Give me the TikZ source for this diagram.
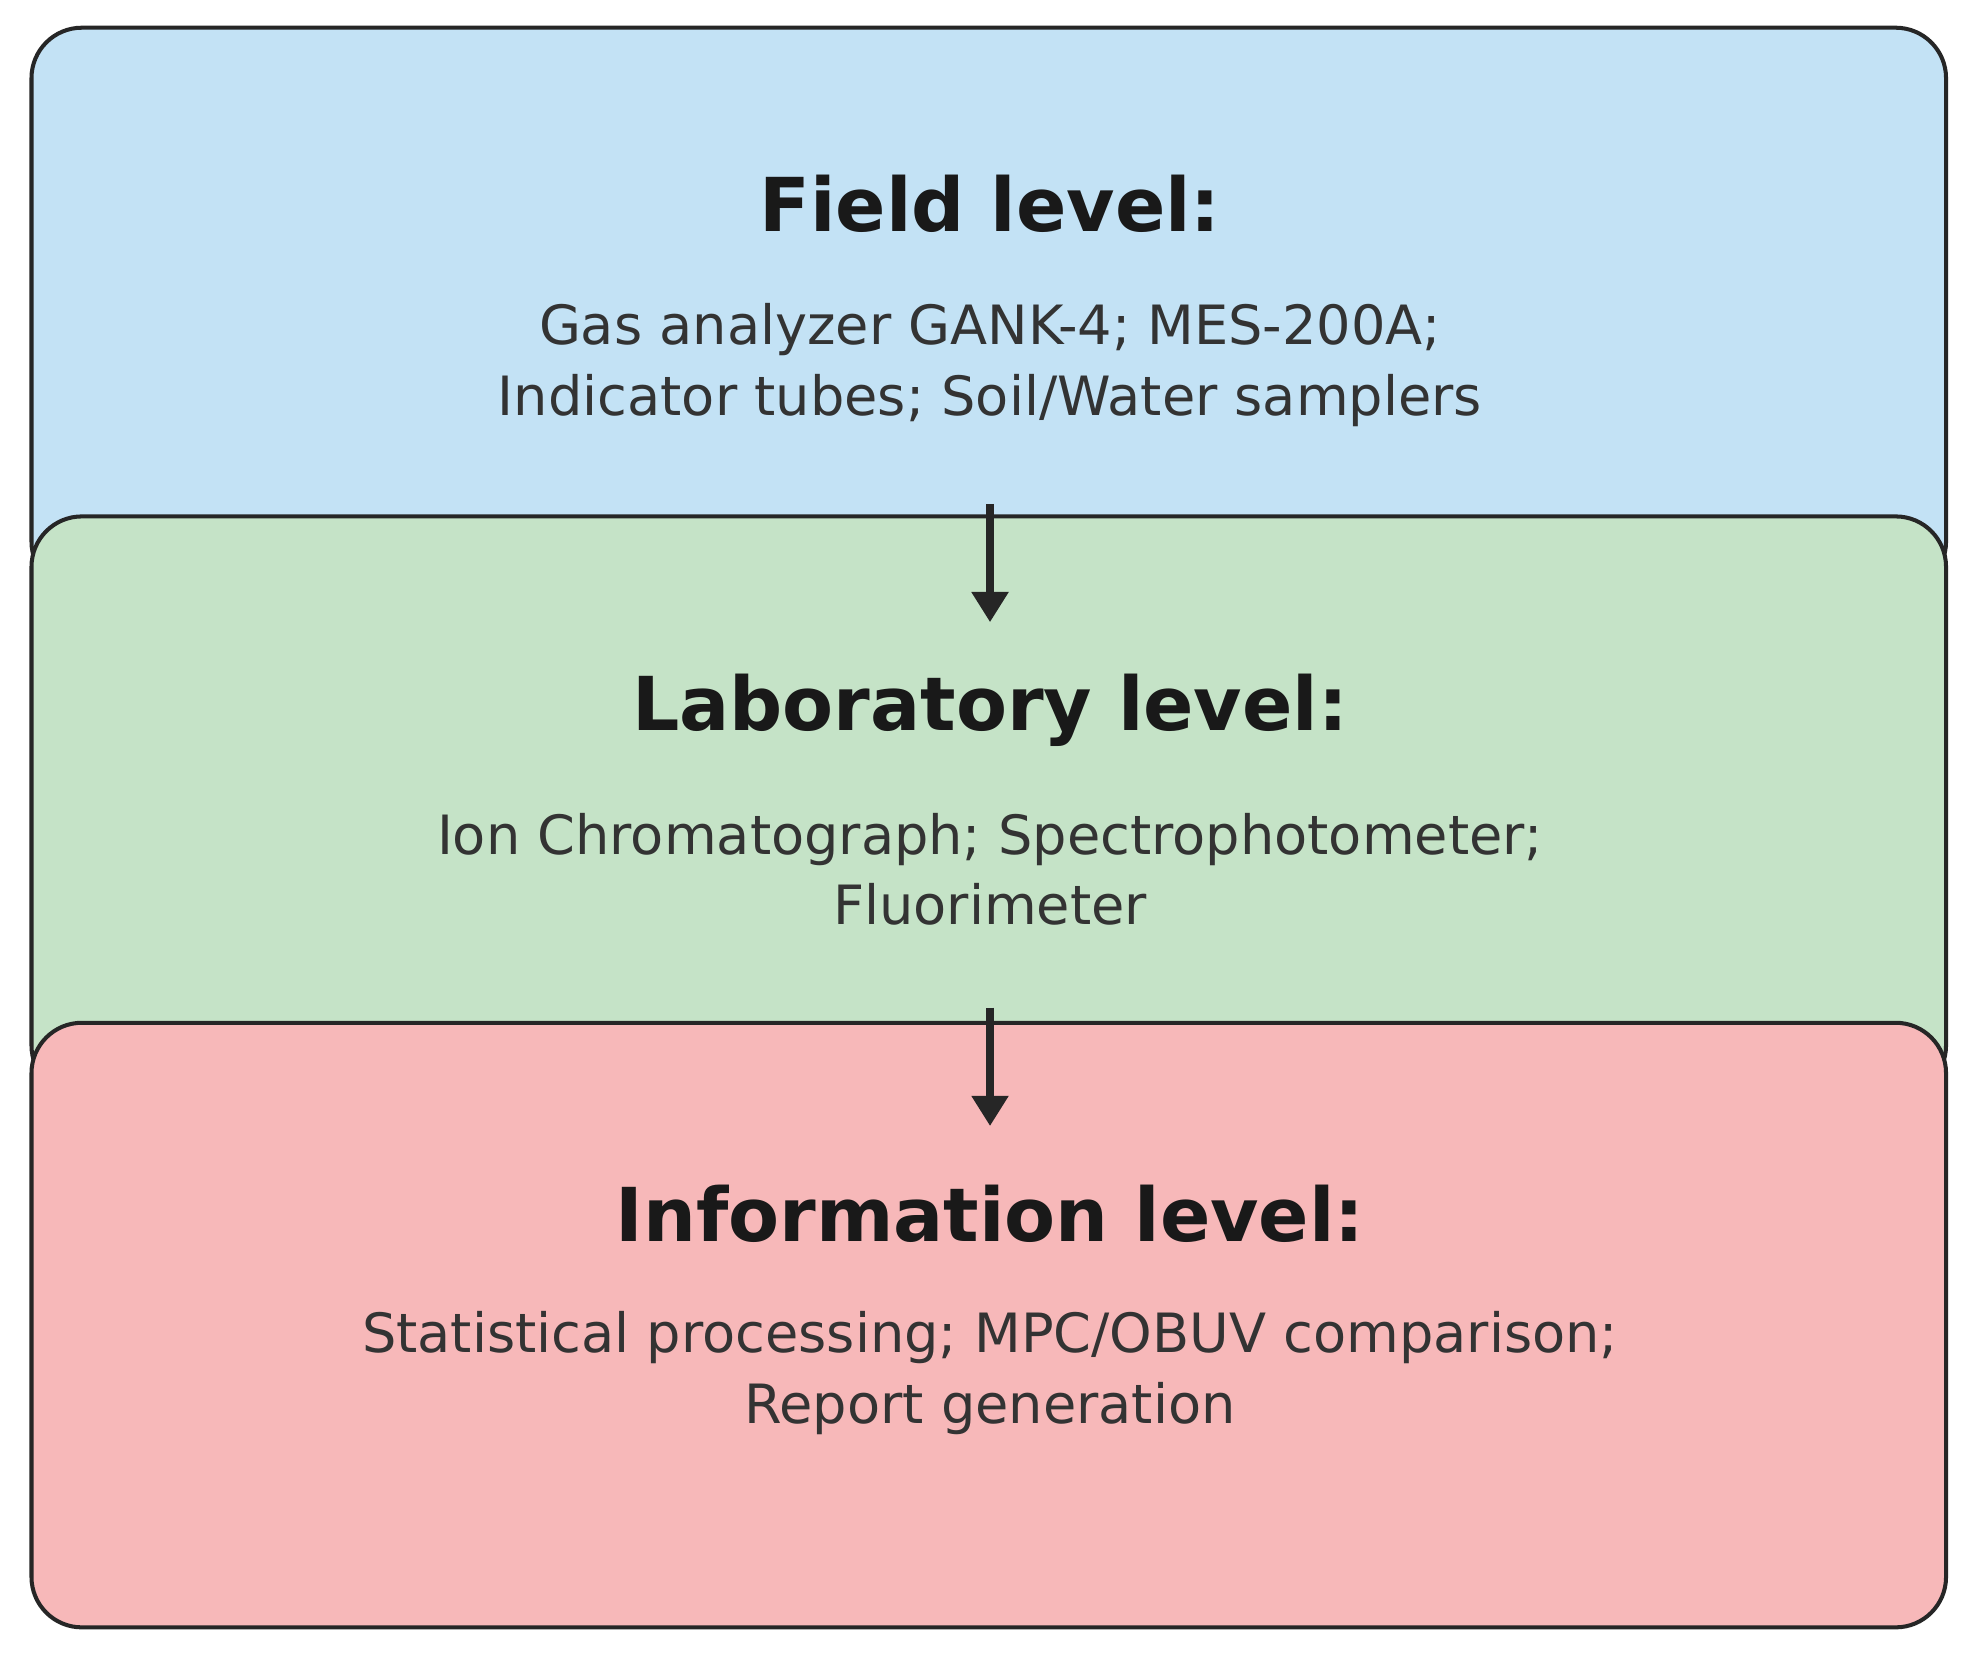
\documentclass[tikz,border=0pt]{standalone}
\usepackage{fontspec}
\setmainfont{DejaVu Sans}
\usetikzlibrary{arrows.meta}
\definecolor{cblue}{HTML}{C3E2F5}
\definecolor{cgreen}{HTML}{C5E3C7}
\definecolor{cred}{HTML}{F7B8B9}
\definecolor{tx}{HTML}{333333}
\begin{document}
\begin{tikzpicture}[x=0.5pt,y=-0.5pt,
  lvl/.style={draw=black!85,line width=1.6pt,rounded corners=20pt},
  ttl/.style={font=\fontsize{29.5}{36}\selectfont\bfseries,text=black!90},
  body/.style={font=\fontsize{21.5}{28}\selectfont,text=tx,align=center},
  arr/.style={-{Triangle[length=12pt,width=14pt]},line width=3pt,black!85}]
\useasboundingbox[fill=white] (0,0) rectangle (1568,1320);
\draw[lvl,fill=cblue] (25,22) rectangle (1545,470);
\draw[lvl,fill=cgreen] (25,410) rectangle (1545,870);
\draw[lvl,fill=cred] (25,812) rectangle (1545,1292);
\node[ttl] (t1) at (786,162) {Field level:};
\node[body] (b1) at (786,290) {Gas analyzer GANK-4; MES-200A;\\Indicator tubes; Soil/Water samplers};
\node[ttl] (t2) at (786,564) {Laboratory level:};
\node[body] (b2) at (786,690) {Ion Chromatograph; Spectrophotometer;\\Fluorimeter};
\node[ttl] (t3) at (786,964) {Information level:};
\node[body] (b3) at (786,1090) {Statistical processing; MPC/OBUV comparison;\\Report generation};
\coordinate (a1) at (786,400); \coordinate (a2) at (786,494);
\coordinate (a3) at (786,800); \coordinate (a4) at (786,894);
\draw[arr] (a1) -- (a2);
\draw[arr] (a3) -- (a4);
\end{tikzpicture}
\end{document}
